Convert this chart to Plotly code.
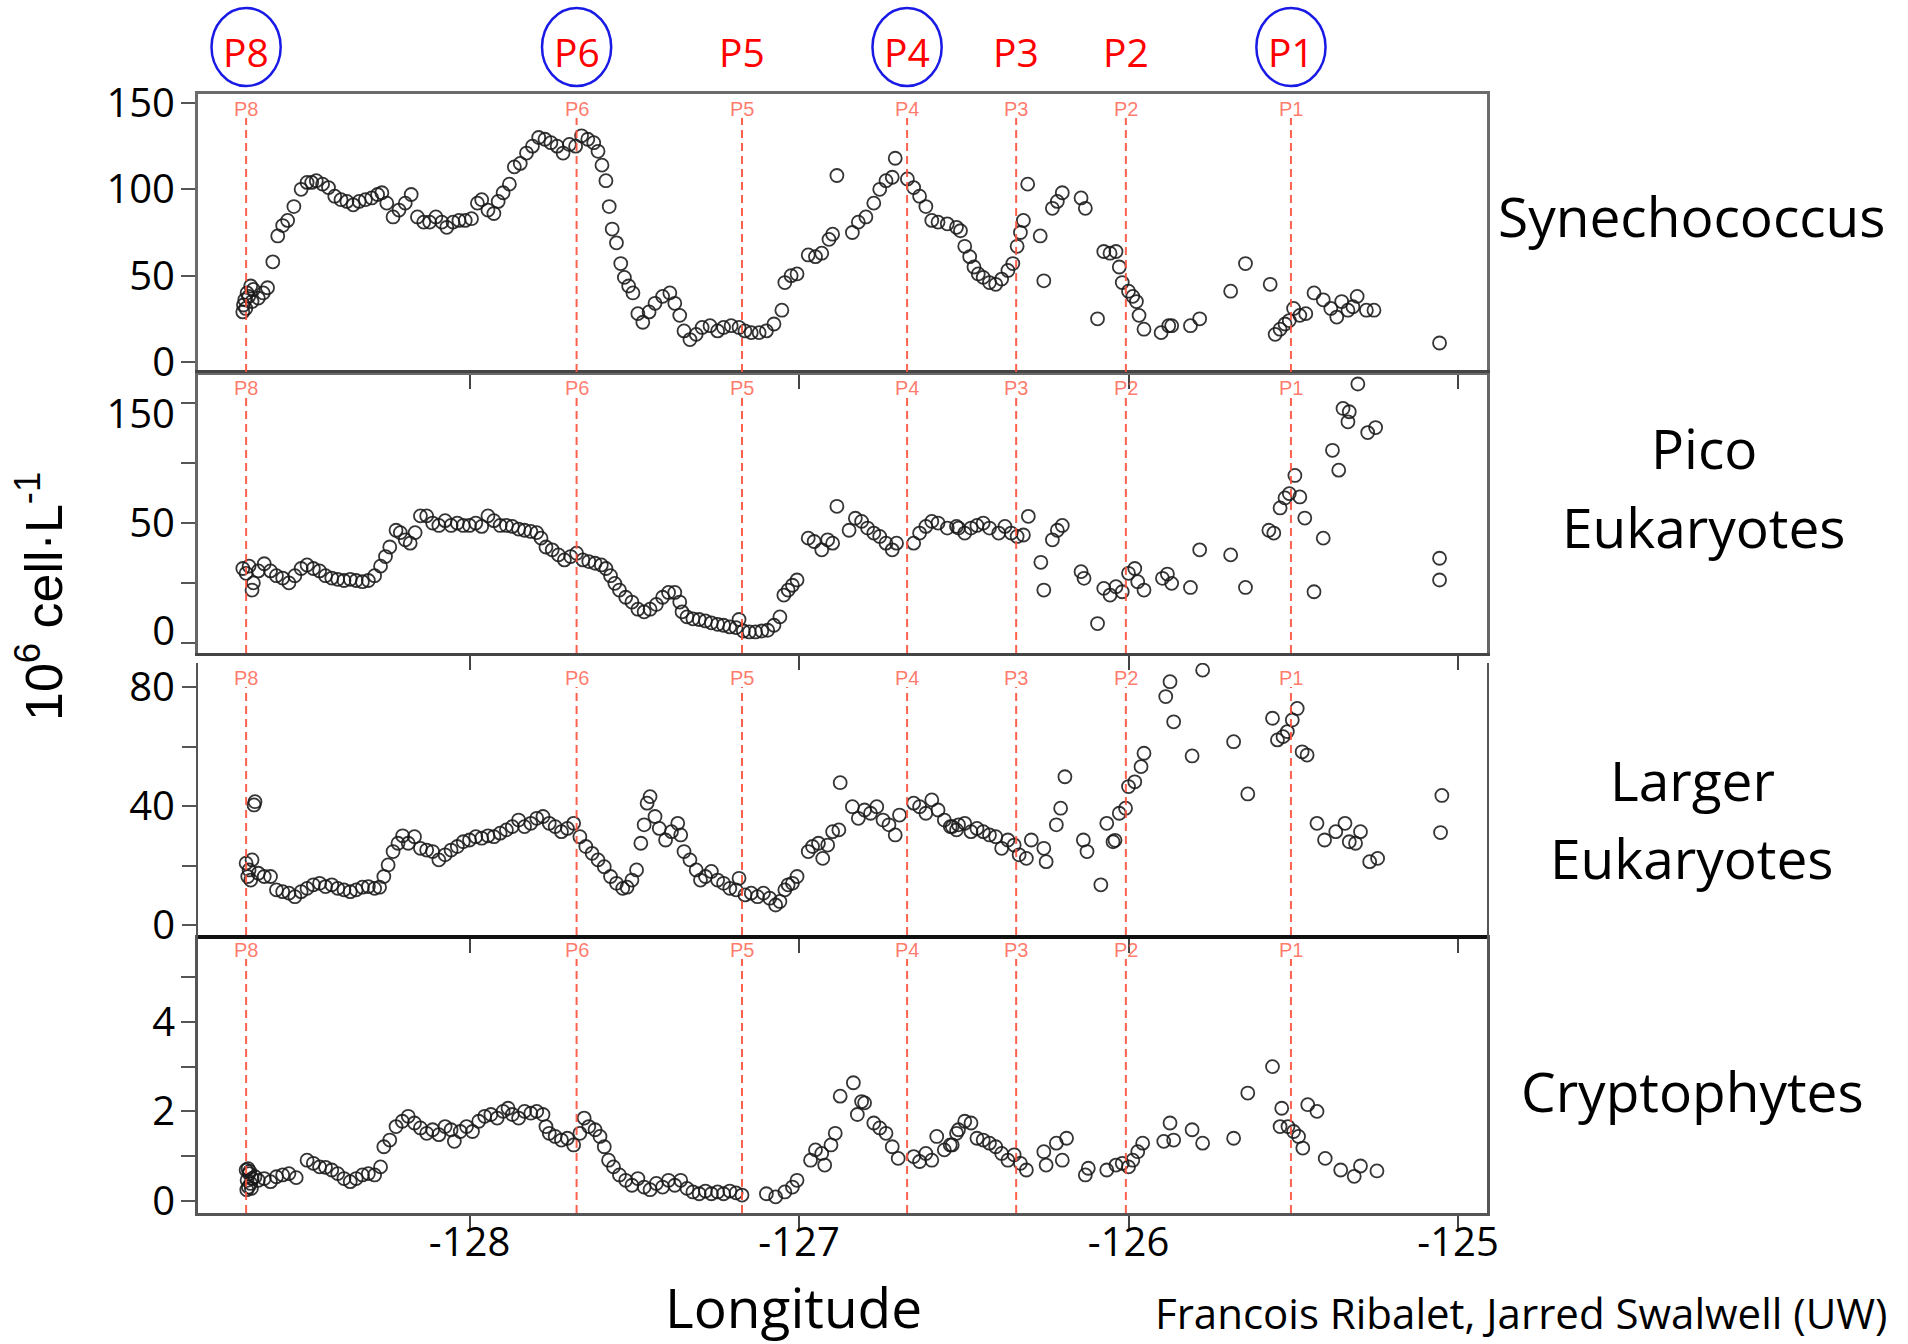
import plotly.graph_objects as go

W, H = 1908, 1344

# ---------------- data: (longitude, abundance) along the cruise track ----------------
SYNECHOCOCCUS = [
    (-128.688, 29), (-128.686, 33), (-128.682, 36), (-128.679, 31), (-128.675, 40), (-128.670, 38),
    (-128.664, 44), (-128.660, 35), (-128.656, 42), (-128.641, 37), (-128.626, 40), (-128.613, 43),
    (-128.597, 58), (-128.582, 73), (-128.567, 79), (-128.552, 82), (-128.533, 90), (-128.511, 100),
    (-128.493, 104), (-128.479, 104), (-128.465, 105), (-128.446, 103), (-128.428, 101), (-128.409, 96),
    (-128.390, 94), (-128.372, 93), (-128.353, 91), (-128.335, 93), (-128.316, 94), (-128.297, 95),
    (-128.279, 97), (-128.266, 98), (-128.251, 92), (-128.232, 84), (-128.214, 88), (-128.195, 92),
    (-128.177, 97), (-128.158, 84), (-128.139, 81), (-128.121, 81), (-128.102, 84), (-128.084, 81),
    (-128.069, 78), (-128.050, 81), (-128.032, 82), (-128.013, 82), (-127.994, 83), (-127.976, 92),
    (-127.963, 94), (-127.944, 88), (-127.926, 86), (-127.913, 93), (-127.898, 98), (-127.879, 103),
    (-127.864, 113), (-127.846, 115), (-127.827, 121), (-127.809, 125), (-127.790, 130), (-127.771, 129),
    (-127.753, 127), (-127.734, 125), (-127.716, 121), (-127.697, 126), (-127.678, 125), (-127.660, 131),
    (-127.641, 129), (-127.623, 127), (-127.610, 122), (-127.598, 114), (-127.586, 105), (-127.576, 90),
    (-127.567, 77), (-127.554, 69), (-127.541, 57), (-127.530, 49), (-127.517, 44), (-127.504, 40),
    (-127.489, 28), (-127.474, 23), (-127.455, 29), (-127.437, 34), (-127.414, 38), (-127.392, 40),
    (-127.377, 34), (-127.362, 27), (-127.349, 18), (-127.331, 13), (-127.312, 16), (-127.294, 20),
    (-127.270, 21), (-127.247, 18), (-127.229, 20), (-127.206, 21), (-127.182, 20), (-127.164, 18),
    (-127.145, 17), (-127.121, 17), (-127.099, 18), (-127.076, 22), (-127.052, 30), (-127.043, 46),
    (-127.024, 50), (-127.006, 51), (-126.972, 62), (-126.950, 61), (-126.931, 63), (-126.909, 71),
    (-126.898, 74), (-126.885, 108), (-126.838, 75), (-126.820, 81), (-126.797, 84), (-126.773, 92),
    (-126.755, 100), (-126.736, 105), (-126.717, 107), (-126.708, 118), (-126.671, 106), (-126.652, 101),
    (-126.634, 96), (-126.615, 90), (-126.597, 82), (-126.578, 81), (-126.550, 80), (-126.522, 78),
    (-126.510, 76), (-126.497, 67), (-126.482, 61), (-126.469, 55), (-126.456, 51), (-126.441, 49),
    (-126.422, 46), (-126.403, 45), (-126.385, 48), (-126.366, 53), (-126.351, 57), (-126.338, 67),
    (-126.328, 75), (-126.319, 82), (-126.306, 103), (-126.268, 73), (-126.257, 47), (-126.231, 89),
    (-126.216, 93), (-126.201, 98), (-126.144, 95), (-126.131, 89), (-126.094, 25), (-126.075, 64),
    (-126.056, 63), (-126.038, 64), (-126.028, 55), (-126.019, 46), (-126.000, 41), (-125.987, 38),
    (-125.976, 35), (-125.968, 27), (-125.953, 19), (-125.901, 17), (-125.878, 21), (-125.869, 21),
    (-125.812, 21), (-125.784, 25), (-125.690, 41), (-125.645, 57), (-125.570, 45), (-125.555, 16),
    (-125.540, 19), (-125.525, 22), (-125.512, 24), (-125.499, 31), (-125.480, 27), (-125.462, 28),
    (-125.437, 40), (-125.409, 36), (-125.386, 31), (-125.368, 26), (-125.353, 35), (-125.334, 30),
    (-125.319, 32), (-125.306, 38), (-125.278, 30), (-125.255, 30), (-125.056, 11),
]

PICO_EUKARYOTES = [
    (-128.688, 31), (-128.678, 29), (-128.669, 32), (-128.660, 22), (-128.656, 25), (-128.641, 30),
    (-128.623, 33), (-128.604, 30), (-128.586, 28), (-128.567, 27), (-128.548, 25), (-128.530, 28),
    (-128.511, 31), (-128.493, 32.5), (-128.474, 31), (-128.455, 30), (-128.437, 28), (-128.418, 27),
    (-128.400, 26.5), (-128.381, 26), (-128.362, 26.5), (-128.344, 26), (-128.325, 25.5), (-128.307, 26),
    (-128.288, 28), (-128.270, 32), (-128.255, 36), (-128.242, 40), (-128.223, 47), (-128.210, 46),
    (-128.195, 43), (-128.180, 41.6), (-128.165, 46), (-128.149, 53), (-128.130, 53), (-128.112, 50),
    (-128.093, 49), (-128.074, 51), (-128.056, 49), (-128.037, 50), (-128.019, 49), (-128.000, 49),
    (-127.981, 50), (-127.963, 48.6), (-127.944, 53), (-127.926, 51), (-127.907, 49), (-127.888, 49),
    (-127.870, 48.6), (-127.851, 47.5), (-127.833, 47), (-127.814, 46.5), (-127.796, 46), (-127.783, 43.7),
    (-127.768, 40), (-127.749, 38.8), (-127.730, 36.7), (-127.712, 34.6), (-127.693, 36), (-127.675, 37.4),
    (-127.656, 34.6), (-127.638, 33.9), (-127.619, 33.2), (-127.600, 32.5), (-127.586, 31), (-127.572, 28),
    (-127.559, 24.8), (-127.545, 22), (-127.526, 19), (-127.507, 17), (-127.489, 14), (-127.470, 12.9),
    (-127.452, 14), (-127.433, 16), (-127.414, 19), (-127.396, 21), (-127.377, 21), (-127.362, 17),
    (-127.355, 12.9), (-127.340, 10.8), (-127.322, 10), (-127.303, 9.7), (-127.284, 9.1), (-127.266, 8.3),
    (-127.247, 7.7), (-127.229, 7.3), (-127.210, 6.6), (-127.191, 6.3), (-127.182, 9.7), (-127.169, 4.9),
    (-127.151, 4.5), (-127.132, 4.5), (-127.113, 4.9), (-127.095, 5.2), (-127.076, 7.3), (-127.058, 10.8),
    (-127.046, 19.9), (-127.033, 22), (-127.020, 24), (-127.006, 26.2), (-126.972, 43.7), (-126.954, 42.3),
    (-126.931, 38.8), (-126.913, 43), (-126.898, 41.6), (-126.885, 57), (-126.848, 47), (-126.829, 52),
    (-126.810, 50.7), (-126.792, 47.9), (-126.773, 45.8), (-126.755, 44.4), (-126.736, 41.6), (-126.717, 38.8),
    (-126.704, 41.6), (-126.652, 41.6), (-126.634, 45.8), (-126.615, 48.6), (-126.597, 50.7), (-126.578, 50),
    (-126.550, 47.9), (-126.522, 48.6), (-126.516, 47.9), (-126.497, 45.8), (-126.478, 47.9), (-126.460, 49),
    (-126.441, 50), (-126.422, 47.9), (-126.394, 45.8), (-126.375, 48.6), (-126.356, 45.8), (-126.338, 44.4),
    (-126.319, 45), (-126.304, 52.8), (-126.266, 33.6), (-126.257, 22), (-126.231, 43), (-126.216, 47),
    (-126.201, 49), (-126.144, 29.7), (-126.135, 26.9), (-126.094, 8), (-126.075, 22.7), (-126.056, 19.9),
    (-126.038, 23.4), (-126.019, 21.3), (-126.000, 29), (-125.981, 31), (-125.972, 25.5), (-125.953, 22),
    (-125.897, 26.9), (-125.882, 28.7), (-125.869, 24.8), (-125.812, 23.1), (-125.784, 38.8), (-125.690, 36.7),
    (-125.645, 23.1), (-125.574, 47), (-125.559, 45.8), (-125.540, 56.3), (-125.525, 60.5), (-125.512, 62.3),
    (-125.495, 69.9), (-125.480, 60.9), (-125.465, 52.1), (-125.437, 21.3), (-125.409, 43.7), (-125.381, 80.4),
    (-125.362, 72.1), (-125.349, 97.9), (-125.334, 92.3), (-125.330, 96.5), (-125.304, 108.1), (-125.274, 87.8),
    (-125.250, 89.9), (-125.056, 35.3), (-125.056, 26.2),
]

LARGER_EUKARYOTES = [
    (-128.678, 20.8), (-128.673, 16.3), (-128.669, 18.5), (-128.664, 15.1), (-128.660, 21.9), (-128.654, 40.4),
    (-128.651, 41.5), (-128.641, 17.4), (-128.623, 16.3), (-128.604, 16.3), (-128.586, 11.8), (-128.567, 11.2),
    (-128.548, 10.7), (-128.530, 9.5), (-128.511, 11.2), (-128.493, 12.3), (-128.474, 13.5), (-128.455, 14),
    (-128.437, 12.9), (-128.418, 13.5), (-128.400, 12.3), (-128.381, 11.8), (-128.362, 11.2), (-128.344, 11.8),
    (-128.325, 12.7), (-128.307, 12.9), (-128.288, 12.3), (-128.273, 12.7), (-128.260, 16.3), (-128.247, 20.2),
    (-128.232, 24.7), (-128.217, 27.5), (-128.203, 30), (-128.186, 27.5), (-128.167, 29.7), (-128.149, 25.8),
    (-128.130, 25.2), (-128.112, 24.7), (-128.093, 21.9), (-128.074, 23.6), (-128.056, 25.2), (-128.037, 26.4),
    (-128.019, 28), (-128.000, 28.6), (-127.981, 29.7), (-127.963, 29.2), (-127.944, 30), (-127.926, 29.7),
    (-127.907, 30.9), (-127.888, 32), (-127.870, 33.1), (-127.851, 35.3), (-127.833, 33.1), (-127.814, 34.2),
    (-127.796, 35.9), (-127.777, 36.5), (-127.758, 34.2), (-127.740, 33.1), (-127.721, 31.4), (-127.703, 32.5),
    (-127.684, 34.2), (-127.665, 29.7), (-127.647, 26.4), (-127.628, 24.1), (-127.610, 21.9), (-127.591, 19.6),
    (-127.572, 16.3), (-127.554, 14), (-127.535, 12.3), (-127.522, 12.7), (-127.507, 15.1), (-127.493, 18.5),
    (-127.480, 27.5), (-127.470, 33.7), (-127.461, 41), (-127.452, 43.2), (-127.437, 36.5), (-127.424, 32.5),
    (-127.405, 28.6), (-127.387, 31.4), (-127.368, 34.2), (-127.359, 30.3), (-127.349, 24.7), (-127.331, 21.9),
    (-127.312, 18.5), (-127.299, 15.1), (-127.284, 16.3), (-127.266, 18), (-127.247, 15.1), (-127.229, 14),
    (-127.210, 12.3), (-127.191, 11.8), (-127.182, 15.7), (-127.164, 10.1), (-127.145, 10.7), (-127.126, 9.5),
    (-127.108, 10.7), (-127.089, 9), (-127.071, 6.7), (-127.058, 7.9), (-127.043, 11.8), (-127.033, 13.5),
    (-127.020, 14), (-127.006, 16.3), (-126.972, 24.7), (-126.959, 26.4), (-126.941, 27.5), (-126.928, 22.4),
    (-126.913, 26.9), (-126.898, 31.4), (-126.879, 32), (-126.875, 47.9), (-126.838, 39.8), (-126.820, 35.9),
    (-126.801, 38.7), (-126.783, 37.6), (-126.764, 39.8), (-126.745, 35.3), (-126.727, 33.7), (-126.708, 30.3),
    (-126.695, 37), (-126.652, 41), (-126.634, 39.8), (-126.615, 37.6), (-126.597, 42.1), (-126.578, 38.7),
    (-126.559, 35.3), (-126.541, 33.1), (-126.522, 32), (-126.535, 33.1), (-126.516, 33.7), (-126.497, 34.2),
    (-126.478, 31.4), (-126.460, 32.5), (-126.441, 31.4), (-126.422, 30.3), (-126.403, 29.7), (-126.385, 25.8),
    (-126.366, 28.6), (-126.347, 26.9), (-126.332, 23.6), (-126.310, 22.4), (-126.295, 28.6), (-126.257, 25.8),
    (-126.250, 21.3), (-126.219, 33.7), (-126.206, 39.3), (-126.193, 49.9), (-126.137, 28.6), (-126.126, 24.7),
    (-126.084, 13.5), (-126.066, 34.2), (-126.047, 28), (-126.041, 28.5), (-126.028, 37.6), (-126.009, 39.3),
    (-126.000, 46.6), (-125.981, 48.2), (-125.962, 53.3), (-125.953, 57.8), (-125.887, 76.9), (-125.874, 81.9),
    (-125.863, 68.4), (-125.807, 56.9), (-125.775, 85.8), (-125.681, 61.7), (-125.638, 44.1), (-125.563, 69.6),
    (-125.548, 62.3), (-125.531, 63.4), (-125.518, 65.1), (-125.503, 69), (-125.488, 72.9), (-125.473, 58.3),
    (-125.458, 57.2), (-125.428, 34.2), (-125.405, 28.6), (-125.371, 31.4), (-125.343, 34.2), (-125.330, 28),
    (-125.311, 27.5), (-125.296, 31.4), (-125.268, 21.3), (-125.244, 22.4), (-125.053, 31.1), (-125.049, 43.6),
]

CRYPTOPHYTES = [
    (-128.678, 0.69), (-128.676, 0.25), (-128.675, 0.46), (-128.672, 0.72), (-128.671, 0.31), (-128.669, 0.61),
    (-128.667, 0.66), (-128.664, 0.39), (-128.662, 0.28), (-128.660, 0.5), (-128.651, 0.54), (-128.641, 0.46),
    (-128.623, 0.5), (-128.604, 0.43), (-128.586, 0.54), (-128.567, 0.58), (-128.548, 0.61), (-128.526, 0.52),
    (-128.493, 0.91), (-128.474, 0.84), (-128.455, 0.76), (-128.437, 0.75), (-128.418, 0.69), (-128.400, 0.61),
    (-128.381, 0.5), (-128.362, 0.43), (-128.344, 0.5), (-128.325, 0.58), (-128.307, 0.61), (-128.288, 0.58),
    (-128.270, 0.76), (-128.260, 1.21), (-128.242, 1.36), (-128.223, 1.66), (-128.204, 1.78), (-128.186, 1.89),
    (-128.167, 1.74), (-128.149, 1.63), (-128.130, 1.51), (-128.112, 1.59), (-128.093, 1.48), (-128.074, 1.66),
    (-128.056, 1.59), (-128.046, 1.33), (-128.028, 1.55), (-128.009, 1.66), (-127.991, 1.55), (-127.972, 1.78),
    (-127.954, 1.89), (-127.935, 1.93), (-127.916, 1.85), (-127.898, 2.0), (-127.883, 2.07), (-127.870, 1.93),
    (-127.851, 1.85), (-127.833, 2.0), (-127.814, 1.96), (-127.796, 2.0), (-127.777, 1.93), (-127.768, 1.66),
    (-127.758, 1.51), (-127.740, 1.44), (-127.721, 1.36), (-127.703, 1.4), (-127.684, 1.25), (-127.665, 1.51),
    (-127.652, 1.85), (-127.638, 1.66), (-127.619, 1.59), (-127.604, 1.44), (-127.591, 1.21), (-127.578, 0.91),
    (-127.563, 0.76), (-127.545, 0.58), (-127.526, 0.46), (-127.507, 0.35), (-127.489, 0.5), (-127.470, 0.31),
    (-127.452, 0.25), (-127.433, 0.39), (-127.414, 0.31), (-127.396, 0.46), (-127.377, 0.35), (-127.359, 0.46),
    (-127.340, 0.28), (-127.322, 0.2), (-127.303, 0.16), (-127.284, 0.22), (-127.266, 0.16), (-127.247, 0.2),
    (-127.229, 0.16), (-127.210, 0.22), (-127.191, 0.18), (-127.173, 0.13), (-127.099, 0.16), (-127.071, 0.09),
    (-127.043, 0.2), (-127.020, 0.31), (-127.006, 0.46), (-126.965, 0.91), (-126.950, 1.14), (-126.931, 1.06),
    (-126.922, 0.8), (-126.903, 1.25), (-126.890, 1.51), (-126.875, 2.34), (-126.835, 2.64), (-126.823, 1.93),
    (-126.810, 2.22), (-126.801, 2.19), (-126.773, 1.74), (-126.755, 1.63), (-126.736, 1.51), (-126.717, 1.21),
    (-126.699, 0.95), (-126.652, 0.99), (-126.634, 0.88), (-126.615, 1.06), (-126.597, 0.91), (-126.582, 1.44),
    (-126.559, 1.14), (-126.541, 1.25), (-126.522, 1.51), (-126.535, 1.25), (-126.516, 1.59), (-126.497, 1.78),
    (-126.478, 1.74), (-126.460, 1.4), (-126.441, 1.36), (-126.422, 1.29), (-126.403, 1.21), (-126.385, 1.06),
    (-126.366, 0.91), (-126.347, 1.03), (-126.328, 0.84), (-126.310, 0.69), (-126.257, 1.1), (-126.250, 0.8),
    (-126.219, 1.29), (-126.201, 0.91), (-126.188, 1.4), (-126.131, 0.58), (-126.122, 0.73), (-126.066, 0.69),
    (-126.038, 0.8), (-126.019, 0.84), (-126.000, 0.76), (-125.987, 0.91), (-125.972, 1.1), (-125.957, 1.29),
    (-125.893, 1.33), (-125.874, 1.74), (-125.863, 1.36), (-125.807, 1.59), (-125.775, 1.29), (-125.681, 1.4),
    (-125.638, 2.41), (-125.563, 3.0), (-125.540, 1.66), (-125.535, 2.07), (-125.516, 1.66), (-125.499, 1.55),
    (-125.484, 1.44), (-125.471, 1.18), (-125.456, 2.15), (-125.428, 2.0), (-125.403, 0.95), (-125.356, 0.69),
    (-125.315, 0.55), (-125.296, 0.78), (-125.246, 0.67),
]

SERIES = [SYNECHOCOCCUS, PICO_EUKARYOTES, LARGER_EUKARYOTES, CRYPTOPHYTES]
PANEL_LABELS = [["Synechococcus"], ["Pico", "Eukaryotes"], ["Larger", "Eukaryotes"], ["Cryptophytes"]]

STATIONS = ["P8", "P6", "P5", "P4", "P3", "P2", "P1"]
STATION_LON = [-128.678, -127.675, -127.173, -126.672, -126.341, -126.008, -125.507]
CIRCLED = ["P8", "P6", "P4", "P1"]

# tick marks on each y axis, and where the printed numbers sit
Y_TICKVALS = [[0, 50, 100, 150], [0, 25, 50, 75, 100], [0, 20, 40, 60, 80], [0, 1, 2, 3, 4, 5]]
Y_LABELVALS = [[0, 50, 100, 150], [5.0, 50, 95.4], [0, 40, 80], [0, 2, 4]]
Y_LABELTEXT = [["0", "50", "100", "150"], ["0", "50", "150"], ["0", "40", "80"], ["0", "2", "4"]]
LON_TICKS = [-128, -127, -126, -125]
LON_TICKTEXT = ["-128", "-127", "-126", "-125"]

# ---------------- geometry (pixels on the page) ----------------
PLOT_LEFT, PLOT_RIGHT = 198, 1487
PANEL_BOUNDS = [(94, 372), (373, 653), (663, 935), (935, 1213)]
Y_RANGES = [(-5.8, 155.2), (-4.3, 112.7), (-3.4, 88.2), (-0.27, 5.94)]
LON_RANGE = [-128.824, -124.912]
LABEL_X = [1692, 1704, 1692, 1692]
LABEL_Y = [[216], [448, 526], [779, 858], [1090]]

FRAMES = [
    dict(xc="#6b6b6b", xw=3, xmirror=True, yc="#6b6b6b", yw=2.5),
    dict(xc="#454545", xw=3, xmirror=True, yc="#666666", yw=2.5),
    dict(xc="#111111", xw=4, xmirror=False, yc="#555555", yw=2),
    dict(xc="#555555", xw=2.5, xmirror=False, yc="#555555", yw=2.5),
]

FONT = "Open Sans"


def px_x(x):
    return x / W


def px_y(y):
    return 1 - y / H


fig = go.Figure()
layout = dict(
    width=W, height=H, autosize=False,
    margin=dict(l=0, r=0, t=0, b=0, pad=0, autoexpand=False),
    paper_bgcolor="white", plot_bgcolor="white",
    showlegend=False,
    font=dict(family=FONT, color="black"),
)
shapes, annotations = [], []
n_panels = len(SERIES)

for i, pts in enumerate(SERIES):
    n = i + 1
    sx = "" if n == 1 else str(n)
    lbl = str(n + n_panels)          # companion axis carrying the printed numbers
    top, bottom = PANEL_BOUNDS[i]
    fr = FRAMES[i]

    lon = [p[0] for p in pts]
    val = [p[1] for p in pts]
    fig.add_trace(go.Scatter(
        x=lon, y=val, mode="markers", xaxis="x" + sx, yaxis="y" + sx,
        marker=dict(symbol="circle-open", size=13, color="rgba(25,25,25,0.88)",
                    line=dict(width=1.8)),
        hoverinfo="x+y",
    ))
    fig.add_trace(go.Scatter(x=[], y=[], xaxis="x" + sx, yaxis="y" + lbl,
                             mode="markers", hoverinfo="skip"))

    layout["xaxis" + sx] = dict(
        domain=[px_x(PLOT_LEFT), px_x(PLOT_RIGHT)], range=LON_RANGE, anchor="y" + sx,
        tickmode="array", tickvals=LON_TICKS, ticktext=LON_TICKTEXT,
        showticklabels=(n == 4), ticks="outside", ticklen=14, tickwidth=2, tickcolor="#444",
        ticklabelstandoff=-22,
        tickfont=dict(family=FONT, size=40, color="black"),
        showline=True, linecolor=fr["xc"], linewidth=fr["xw"], mirror=fr["xmirror"],
        showgrid=False, zeroline=False, automargin=False,
    )
    layout["yaxis" + sx] = dict(
        domain=[px_y(bottom), px_y(top)], range=list(Y_RANGES[i]), anchor="x" + sx,
        tickmode="array", tickvals=Y_TICKVALS[i], showticklabels=False,
        ticks="outside", ticklen=14, tickwidth=2, tickcolor="#555",
        showline=True, linecolor=fr["yc"], linewidth=fr["yw"], mirror=True,
        showgrid=False, zeroline=False, automargin=False,
    )
    layout["yaxis" + lbl] = dict(
        overlaying="y" + sx, anchor="x" + sx, side="left", range=list(Y_RANGES[i]),
        tickmode="array", tickvals=Y_LABELVALS[i], ticktext=Y_LABELTEXT[i],
        ticks="outside", ticklen=14, tickwidth=0, tickcolor="rgba(0,0,0,0)",
        tickfont=dict(family=FONT, size=40, color="black"),
        showline=False, showgrid=False, zeroline=False, automargin=False,
    )

    # dashed station markers with small station tags along the top of each panel
    h = bottom - top
    for name, slon in zip(STATIONS, STATION_LON):
        shapes.append(dict(
            type="line", xref="x" + sx, yref="y" + sx + " domain",
            x0=slon, x1=slon, y0=0, y1=1 - 24 / h,
            line=dict(color="rgba(255,80,60,0.9)", width=2, dash="8px,5px"),
        ))
        annotations.append(dict(
            xref="x" + sx, yref="y" + sx + " domain", x=slon, y=1, yanchor="top", yshift=-2,
            text=name, showarrow=False,
            font=dict(family="Liberation Sans", size=20, color="rgba(255,80,60,0.75)"),
        ))

    # population names on the right
    for line_text, ly in zip(PANEL_LABELS[i], LABEL_Y[i]):
        annotations.append(dict(
            xref="paper", yref="paper", x=px_x(LABEL_X[i]), y=px_y(ly),
            xanchor="center", yanchor="middle", text=line_text, showarrow=False,
            font=dict(family=FONT, size=55, color="black"),
        ))

# station names above the top panel, some of them circled
for name, slon in zip(STATIONS, STATION_LON):
    annotations.append(dict(
        xref="x", yref="paper", x=slon, y=px_y(52), xanchor="center", yanchor="middle",
        text=name, showarrow=False, font=dict(family=FONT, size=39, color="#ff0000"),
    ))
    if name in CIRCLED:
        shapes.append(dict(
            type="circle", xref="x", yref="paper",
            x0=slon - 0.105, x1=slon + 0.105, y0=px_y(86), y1=px_y(8),
            line=dict(color="#1a1ae6", width=2.5),
        ))

annotations += [
    dict(xref="paper", yref="paper", x=px_x(40), y=px_y(597), textangle=-90,
         xanchor="center", yanchor="middle", showarrow=False,
         text="10<sup>6</sup> cell\u00b7L<sup>-1</sup>",
         font=dict(family="Liberation Sans", size=52, color="black")),
    dict(xref="paper", yref="paper", x=px_x(793), y=px_y(1306),
         xanchor="center", yanchor="middle", showarrow=False, text="Longitude",
         font=dict(family=FONT, size=55, color="black")),
    dict(xref="paper", yref="paper", x=px_x(1889), y=px_y(1312),
         xanchor="right", yanchor="middle", showarrow=False,
         text="Francois Ribalet, Jarred Swalwell (UW)",
         font=dict(family=FONT, size=42, color="black")),
]

layout["shapes"] = shapes
layout["annotations"] = annotations
fig.update_layout(**layout)
fig.write_html("out.html")
